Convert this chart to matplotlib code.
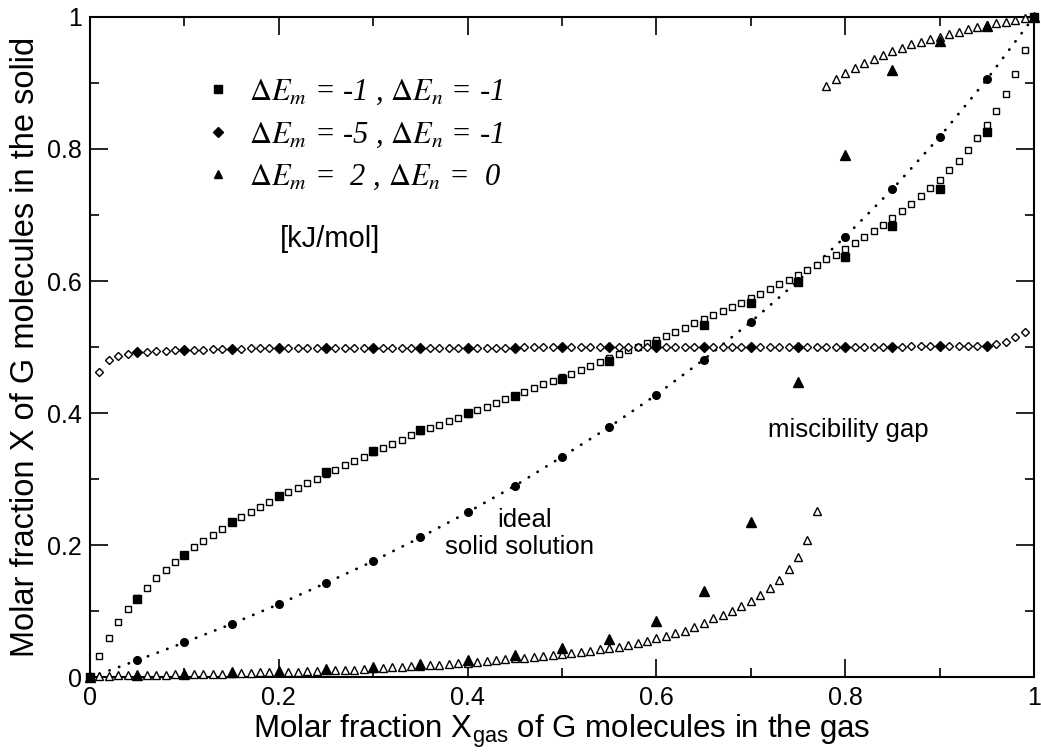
#Isoterma de adsorcion: fraccion molar en el solido vs en el gas
import matplotlib
matplotlib.use('Agg')
import matplotlib.pyplot as plt
from matplotlib.font_manager import FontProperties
from matplotlib.lines import Line2D

#Datos leidos del grafico
#puntos gruesos cada 0.05
x_grueso = [0.00, 0.05, 0.10, 0.15, 0.20, 0.25, 0.30, 0.35, 0.40, 0.45, 0.50,
            0.55, 0.60, 0.65, 0.70, 0.75, 0.80, 0.85, 0.90, 0.95, 1.00]
#puntos finos cada 0.01
x_fino = [0.01, 0.02, 0.03, 0.04, 0.05, 0.06, 0.07, 0.08, 0.09, 0.10,
          0.11, 0.12, 0.13, 0.14, 0.15, 0.16, 0.17, 0.18, 0.19, 0.20,
          0.21, 0.22, 0.23, 0.24, 0.25, 0.26, 0.27, 0.28, 0.29, 0.30,
          0.31, 0.32, 0.33, 0.34, 0.35, 0.36, 0.37, 0.38, 0.39, 0.40,
          0.41, 0.42, 0.43, 0.44, 0.45, 0.46, 0.47, 0.48, 0.49, 0.50,
          0.51, 0.52, 0.53, 0.54, 0.55, 0.56, 0.57, 0.58, 0.59, 0.60,
          0.61, 0.62, 0.63, 0.64, 0.65, 0.66, 0.67, 0.68, 0.69, 0.70,
          0.71, 0.72, 0.73, 0.74, 0.75, 0.76, 0.77, 0.78, 0.79, 0.80,
          0.81, 0.82, 0.83, 0.84, 0.85, 0.86, 0.87, 0.88, 0.89, 0.90,
          0.91, 0.92, 0.93, 0.94, 0.95, 0.96, 0.97, 0.98, 0.99]

#solucion solida ideal (circulos + linea punteada)
y_ideal = [0.000, 0.026, 0.053, 0.081, 0.111, 0.143, 0.176, 0.212, 0.250, 0.290, 0.334,
           0.379, 0.428, 0.481, 0.538, 0.600, 0.667, 0.739, 0.818, 0.905, 1.000]

#dEm=-1, dEn=-1
y_cuad = [0.000, 0.119, 0.186, 0.236, 0.275, 0.311, 0.343, 0.3745, 0.401, 0.4265, 0.451,
          0.479, 0.504, 0.534, 0.566, 0.599, 0.637, 0.683, 0.740, 0.826, 1.000]
y_cuad_fino = [0.032, 0.060, 0.084, 0.104, 0.120, 0.136, 0.150, 0.163, 0.175, 0.186,
               0.197, 0.206, 0.216, 0.225, 0.235, 0.243, 0.250, 0.258, 0.266, 0.274,
               0.280, 0.287, 0.294, 0.301, 0.308, 0.314, 0.321, 0.327, 0.334, 0.341,
               0.347, 0.354, 0.360, 0.367, 0.373, 0.378, 0.382, 0.388, 0.393, 0.399,
               0.405, 0.410, 0.416, 0.421, 0.426, 0.432, 0.438, 0.444, 0.449, 0.454,
               0.460, 0.465, 0.471, 0.477, 0.483, 0.489, 0.495, 0.500, 0.506, 0.511,
               0.517, 0.523, 0.529, 0.536, 0.542, 0.548, 0.554, 0.561, 0.567, 0.574,
               0.581, 0.588, 0.595, 0.602, 0.609, 0.617, 0.625, 0.633, 0.640, 0.649,
               0.658, 0.667, 0.676, 0.685, 0.695, 0.706, 0.717, 0.729, 0.741, 0.753,
               0.768, 0.782, 0.798, 0.817, 0.836, 0.858, 0.883, 0.913, 0.950]

#dEm=-5, dEn=-1 (sin punto en 0 y 1)
x_rombo = [0.05, 0.10, 0.15, 0.20, 0.25, 0.30, 0.35, 0.40, 0.45, 0.50,
           0.55, 0.60, 0.65, 0.70, 0.75, 0.80, 0.85, 0.90, 0.95]
y_rombo = [0.492, 0.496, 0.497, 0.498, 0.499, 0.499, 0.499, 0.499, 0.499, 0.500,
           0.500, 0.500, 0.500, 0.500, 0.500, 0.500, 0.500, 0.501, 0.502]
y_rombo_fino = [0.463, 0.481, 0.487, 0.490, 0.492, 0.493, 0.494, 0.494, 0.495, 0.496,
                0.496, 0.496, 0.497, 0.497, 0.497, 0.497, 0.498, 0.498, 0.498, 0.498,
                0.498, 0.498, 0.498, 0.499, 0.499, 0.499, 0.499, 0.499, 0.499, 0.499,
                0.499, 0.499, 0.499, 0.499, 0.499, 0.499, 0.499, 0.499, 0.499, 0.499,
                0.499, 0.499, 0.499, 0.499, 0.499, 0.500, 0.500, 0.500, 0.500, 0.500,
                0.500, 0.500, 0.500, 0.500, 0.500, 0.500, 0.500, 0.500, 0.500, 0.500,
                0.500, 0.500, 0.500, 0.500, 0.500, 0.500, 0.500, 0.500, 0.500, 0.500,
                0.500, 0.500, 0.500, 0.500, 0.500, 0.500, 0.500, 0.500, 0.500, 0.500,
                0.500, 0.500, 0.500, 0.500, 0.500, 0.500, 0.501, 0.501, 0.501, 0.501,
                0.501, 0.501, 0.501, 0.502, 0.502, 0.505, 0.508, 0.515, 0.523]

#dEm=2, dEn=0 (hueco de miscibilidad)
y_tri = [0.000, 0.004, 0.006, 0.008, 0.010, 0.013, 0.0163, 0.020, 0.0265, 0.034, 0.044,
         0.0587, 0.0855, 0.131, 0.236, 0.447, 0.791, 0.919, 0.963, 0.986, 1.000]
#rama baja 0.01..0.77
y_tri_bajo = [0.002, 0.002, 0.003, 0.003, 0.003, 0.004, 0.004, 0.004, 0.005, 0.005,
              0.005, 0.006, 0.006, 0.006, 0.007, 0.007, 0.007, 0.008, 0.008, 0.008,
              0.009, 0.009, 0.010, 0.010, 0.011, 0.011, 0.012, 0.012, 0.013, 0.014,
              0.015, 0.0155, 0.016, 0.017, 0.018, 0.0185, 0.0195, 0.020, 0.0215, 0.0225,
              0.0235, 0.025, 0.026, 0.0275, 0.029, 0.030, 0.031, 0.032, 0.0335, 0.035,
              0.0365, 0.038, 0.040, 0.0425, 0.0445, 0.0465, 0.049, 0.052, 0.0557, 0.059,
              0.0628, 0.0669, 0.0708, 0.076, 0.083, 0.0896, 0.0946, 0.101, 0.1087, 0.116,
              0.125, 0.135, 0.1475, 0.164, 0.182, 0.208, 0.252]
#rama alta 0.78..0.99
y_tri_alto = [0.895, 0.906, 0.915, 0.922, 0.9295, 0.936, 0.9425, 0.948, 0.953, 0.958,
              0.962, 0.966, 0.970, 0.974, 0.9775, 0.981, 0.984, 0.987, 0.990, 0.9925,
              0.995, 0.998]

ticks = [0, 0.2, 0.4, 0.6, 0.8, 1]
tick_labels = ['0', '0.2', '0.4', '0.6', '0.8', '1']

etiquetas = [r'$\Delta E_m$ = -1 , $\Delta E_n$ = -1',
             r'$\Delta E_m$ = -5 , $\Delta E_n$ = -1',
             r'$\Delta E_m$ =  2 , $\Delta E_n$ =  0']

#Estilo general
plt.rcParams['font.family'] = ['Liberation Sans', 'DejaVu Sans']
plt.rcParams['mathtext.fontset'] = 'custom'
plt.rcParams['mathtext.rm'] = 'Liberation Sans'
plt.rcParams['mathtext.it'] = 'Liberation Sans:italic'

fig = plt.figure(figsize=(10.41, 7.53), dpi=100)
ax = fig.add_axes([0.0865, 0.1003, 0.9068, 0.8775])

abierto = dict(linestyle='none', markerfacecolor='white', markeredgecolor='black',
               markeredgewidth=1.0, clip_on=False)
lleno = dict(linestyle='none', color='black', clip_on=False)

#series finas (simbolos abiertos)
ax.plot(x_fino, y_cuad_fino, marker='s', markersize=4.5, zorder=3, **abierto)
ax.plot(x_fino, y_rombo_fino, marker='D', markersize=4.2, zorder=3, **abierto)
ax.plot(x_fino[:77], y_tri_bajo, marker='^', markersize=5.5, zorder=3, **abierto)
ax.plot(x_fino[77:], y_tri_alto, marker='^', markersize=5.5, zorder=3, **abierto)

#solucion ideal
ax.plot(x_grueso, y_ideal, color='black', lw=2.0, linestyle=(0, (0.1, 3.6)),
        dash_capstyle='round', clip_on=False, zorder=2)
ax.plot(x_grueso, y_ideal, marker='o', markersize=5.5, zorder=4, **lleno)

#series gruesas (simbolos llenos)
ax.plot(x_grueso, y_cuad, marker='s', markersize=6, zorder=5, **lleno)
ax.plot(x_rombo, y_rombo, marker='D', markersize=5.5, zorder=5, **lleno)
ax.plot(x_grueso, y_tri, marker='^', markersize=7.5, zorder=5, **lleno)

#Ejes
ax.set_xlim(0, 1)
ax.set_ylim(0, 1)
ax.set_xticks(ticks)
ax.set_xticklabels(tick_labels)
ax.set_yticks(ticks)
ax.set_yticklabels(tick_labels)
ax.set_xticks([0.1, 0.3, 0.5, 0.7, 0.9], minor=True)
ax.set_yticks([0.1, 0.3, 0.5, 0.7, 0.9], minor=True)
ax.tick_params(which='both', direction='in', top=True, right=True, width=1.2,
               labelsize=18)
ax.tick_params(which='major', length=13, pad=6)
ax.tick_params(which='minor', length=6.5)
for s in ax.spines.values():
    s.set_linewidth(1.5)

ax.set_xlabel(r'Molar fraction X$_{\mathrm{gas}}$ of G molecules in the gas',
              fontsize=22.5, labelpad=2)
ax.set_ylabel('Molar fraction X of G molecules in the solid', fontsize=23.5,
              labelpad=4)

#Leyenda
manejadores = [Line2D([], [], marker='s', markersize=6, **lleno),
               Line2D([], [], marker='D', markersize=5.5, **lleno),
               Line2D([], [], marker='^', markersize=6, **lleno)]
fuente = FontProperties(family='Liberation Serif', style='italic', size=22,
                        math_fontfamily='stix')
ax.legend(manejadores, etiquetas, loc='upper left', bbox_to_anchor=(0.113, 0.926),
          frameon=False, prop=fuente, handlelength=0.6, handletextpad=0.7,
          labelspacing=0.43, borderaxespad=0)

#Textos
ax.text(0.201, 0.651, '[kJ/mol]', fontsize=21, transform=ax.transAxes)
ax.text(0.431, 0.228, 'ideal', fontsize=18.5)
ax.text(0.376, 0.187, 'solid solution', fontsize=18.5)
ax.text(0.718, 0.364, 'miscibility gap', fontsize=18.5)

fig.savefig('out.png', dpi=100)
